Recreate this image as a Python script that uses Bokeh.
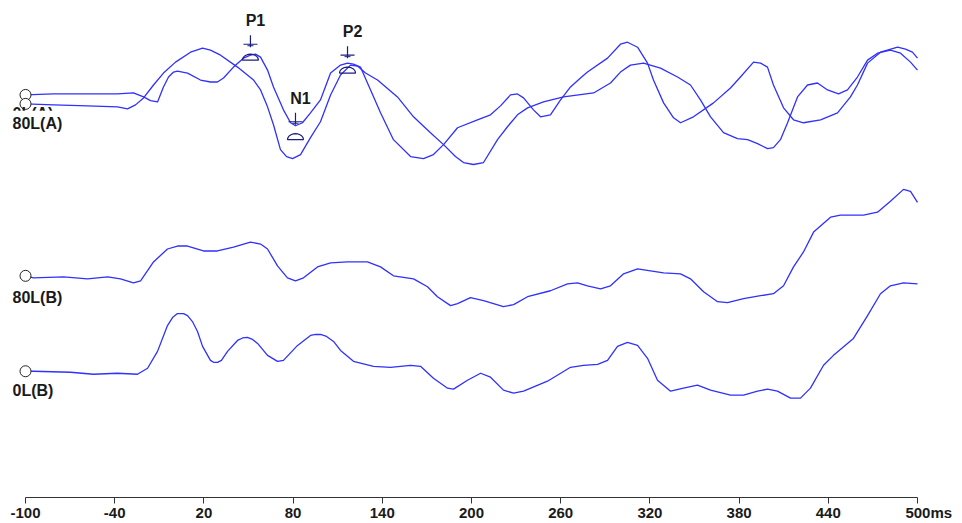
import numpy as np
from bokeh.plotting import figure
from bokeh.models import Range1d, FixedTicker, Label
from bokeh.embed import file_html
from bokeh.resources import INLINE
from bokeh.core.properties import value

# ---------------- data (latency in ms, amplitude in display units, up = positive) -------------
trace_names = ["0L(A)", "80L(A)", "80L(B)", "0L(B)"]

t_0LA = [-100, -81.2, -58.3, -38.1, -27.4, -20.6, -15.9, -11.2, -7.2, -3.8, -0.4, 2.2, 9.0, 17.7,
         24.4, 29.1, 33.2, 39.9, 46.6, 51.3, 54.7, 58.1, 62.8, 66.8, 73.5, 78.3, 81.6, 86.3, 91.7,
         98.4, 105.2, 111.9, 116.6, 120.6, 125.3, 132.1, 138.8, 147.5, 159.0, 167.7, 174.4, 181.2,
         190.6, 204.0, 212.8, 219.5, 226.2, 230.9, 235.0, 241.7, 246.4, 253.1, 259.9, 266.6, 273.3,
         278.0, 291.5, 300.2, 304.9, 311.7, 318.4, 322.4, 329.2, 335.9, 340.6, 349.3, 362.8, 374.2,
         380.9, 389.7, 394.4, 399.1, 403.1, 409.9, 416.6, 423.3, 434.8, 446.2, 454.9, 459.6, 466.4,
         475.1, 486.6, 491.9, 496.6, 500]
a_0LA = [0, 1, 1, 1, 2, -2, -5.7, -7, 8, 18, 23, 24, 22, 15,
         13, 13, 17, 28, 37, 40, 41, 38, 25, 8, -15, -28, -31, -28, -18,
         -5, 22, 30, 32, 31, 28, 5, -18, -45, -62, -64, -60, -50,
         -33, -25, -20, -11, 0, 1, -3, -15, -22, -20, -5, 8, 17,
         23, 37, 51, 53, 48, 32, 15, -8, -23, -28, -22, -8, 7,
         18, 33, 32, 28, 10, -13, -25, -28, -25, -18, -2, 10, 32,
         43, 48, 46, 43, 37]

t_80LA = [-100, -81.2, -58.3, -38.1, -31.4, -26.0, -20.6, -13.9, -7.2, 0.9, 11.0, 19.1, 24.4, 31.2,
          42.6, 53.4, 58.1, 62.8, 66.8, 71.5, 75.6, 79.6, 85.0, 91.7, 98.4, 105.2, 111.9, 118.6,
          123.3, 128.7, 136.8, 150.2, 161.0, 172.4, 181.2, 189.2, 194.6, 201.3, 208.1, 217.5, 224.2,
          230.9, 237.7, 248.4, 261.9, 282.1, 293.5, 300.2, 306.9, 315.7, 327.1, 338.6, 347.3, 354.0,
          360.8, 369.5, 378.9, 385.7, 392.4, 399.1, 403.1, 407.8, 412.6, 419.3, 426.0, 432.7, 439.5,
          446.9, 452.9, 459.6, 466.4, 473.1, 481.8, 488.6, 495.3, 500]
a_80LA = [0, -1, -2, -3, -5, -1, 6, 19, 31, 42, 52, 56, 54, 49,
          37, 24, 14, -3, -21, -46, -53, -55, -51, -34, -18, 9, 29, 39,
          38, 31, 24, 7, -13, -29, -41, -53, -59, -61, -59, -36, -23,
          -11, -4, 2, 7, 11, 21, 32, 39, 41, 36, 27, 19, 4,
          -13, -29, -35, -36, -40, -45, -44, -36, -19, 7, 19, 21, 14,
          10, 14, 27, 44, 51, 54, 51, 42, 34]

t_80LB = [-100, -94.6, -74.4, -58.3, -44.8, -36.1, -27.4, -22.6, -13.9, -4.5, 2.2, 9.0, 19.7, 29.1,
          39.9, 51.3, 58.1, 62.8, 69.5, 76.2, 81.6, 87.0, 96.4, 105.2, 116.6, 130.0, 138.8, 147.5,
          161.0, 170.4, 177.1, 185.9, 190.6, 199.3, 208.1, 221.5, 228.3, 237.7, 253.1, 264.6, 271.3,
          278.0, 286.8, 293.5, 302.3, 311.7, 320.4, 329.2, 340.6, 347.3, 356.1, 365.5, 372.2, 383.0,
          394.4, 403.1, 409.9, 416.6, 423.3, 430.1, 441.5, 448.2, 463.7, 473.1, 481.8, 490.6, 495.3,
          500]
a_80LB = [0, -2, -1, -3, -1, -3, -7, -5, 14, 27, 30, 30, 25, 25,
          29, 34, 32, 27, 10, -2, -5, -2, 9, 13, 14, 14, 9, 0,
          -3, -11, -21, -30, -28, -22, -25, -31, -29, -21, -15, -8, -7,
          -10, -13, -10, 2, 7, 5, 3, 2, -3, -16, -26, -27, -23,
          -20, -18, -10, 9, 24, 44, 59, 61, 61, 64, 75, 87, 85,
          74]

t_0LB = [-100, -94.6, -69.7, -54.3, -38.1, -24.7, -17.9, -11.2, -4.5, -1.1, 2.2, 6.3, 9.0, 12.3,
         15.7, 19.1, 24.4, 26.5, 29.1, 31.8, 35.9, 42.6, 46.0, 49.3, 52.7, 56.1, 62.8, 69.5, 73.5,
         83.0, 91.7, 95.1, 98.4, 102.5, 107.2, 111.9, 120.6, 134.1, 145.5, 159.0, 165.7, 174.4,
         183.9, 187.9, 197.3, 206.1, 212.8, 221.5, 228.3, 235.0, 251.1, 266.6, 275.3, 284.8, 291.5,
         298.2, 304.9, 311.7, 318.4, 325.1, 333.9, 342.6, 352.0, 360.8, 374.2, 383.0, 392.4, 399.1,
         405.8, 414.6, 421.3, 428.0, 436.8, 443.5, 456.9, 466.4, 475.1, 481.8, 490.6, 500]
a_0LB = [0, 0, -1, -3, -2, -3, 3, 20, 46, 54, 58, 58, 56, 50,
         40, 25, 11, 9, 9, 11, 20, 31, 33.5, 34, 32, 28, 16, 10, 11,
         26, 36, 37, 37, 35, 30, 21, 10, 5, 4, 6, 5, -7,
         -17, -18, -9, -2, -6, -19, -22, -20, -10, 4, 6, 7, 11,
         25, 29, 26, 13, -9, -20, -17, -14, -19, -24, -24, -20, -18,
         -20, -27, -27, -17, 6, 16, 33, 56, 78, 86, 89, 88]

# peak markers on the A traces
marker_names = ["P1", "N1", "P2"]
marker_lat = [51.3, 81.6, 116.6]
arrow_tip_amp = [48, -30, 37]
arch_apex_amp = [41, -39, 28]

tick_values = [-100, -40, 20, 80, 140, 200, 260, 320, 380, 440, 500]
unit_text = "ms"

# ---------------- layout / style -------------
PLOT_W, PLOT_H = 962, 523
X_START, X_END = -116.82, 530.27
MS_PER_PX = (X_END - X_START) / PLOT_W
offsets = [-95, -104, -277, -373]          # vertical placement of each trace baseline
label_gap = [10, 7, 13, 11]                # px from baseline to label box top
TRACE_COLOR = "#3030ff"
MARK_COLOR = "#1c1c80"
TEXT_COLOR = "#1a1a1a"
FONT = "Liberation Sans"

p = figure(width=PLOT_W, height=PLOT_H, output_backend="svg", toolbar_location=None,
           x_range=Range1d(X_START, X_END), y_range=Range1d(-500, 0),
           y_axis_location=None, min_border_left=0, min_border_right=0,
           min_border_top=0, min_border_bottom=23)
p.xgrid.visible = False
p.ygrid.visible = False
p.outline_line_color = None
p.background_fill_color = "white"
p.border_fill_color = "white"

ax = p.xaxis[0]
ax.ticker = FixedTicker(ticks=tick_values)
ax.bounds = (tick_values[0], tick_values[-1])
overrides = {v: str(v) for v in tick_values}
# unit appended to the last label; leading en-spaces keep the number centred on its tick
overrides[tick_values[-1]] = "\u2002\u2002\u2002" + str(tick_values[-1]) + unit_text
ax.major_label_overrides = overrides
ax.axis_line_color = "#333333"
ax.major_tick_line_color = "#333333"
ax.major_tick_out = 6
ax.major_tick_in = 0
ax.minor_tick_line_color = None
ax.major_label_standoff = 0
ax.major_label_text_font = FONT
ax.major_label_text_font_style = "bold"
ax.major_label_text_font_size = "15px"
ax.major_label_text_color = TEXT_COLOR

series = [(t_0LA, a_0LA), (t_80LA, a_80LA), (t_80LB, a_80LB), (t_0LB, a_0LB)]
for (t, a), off in zip(series, offsets):
    p.line(t, np.array(a, dtype=float) + off, line_color=TRACE_COLOR, line_width=1.3,
           line_join="round")

# start circles
p.scatter(x=[tick_values[0]] * 4, y=offsets, size=11, marker="circle",
          fill_color="white", line_color="#222222", line_width=1)

# trace labels (second one carries a white box, hiding the first as in the original)
for i, (name, off, gap) in enumerate(zip(trace_names, offsets, label_gap)):
    kw = dict(x_offset=-13)
    if i == 1:
        kw = dict(background_fill_color="white", padding=4, x_offset=-17)
    p.add_layout(Label(x=tick_values[0], y=off - gap, text=name,
                       text_baseline="top", text_align="left", text_font=FONT,
                       text_font_style="bold", text_font_size="16px",
                       text_color=TEXT_COLOR, **kw))

# peak markers
lat = np.array(marker_lat)
tip = np.array(arrow_tip_amp, dtype=float) + offsets[0]
apex = np.array(arch_apex_amp, dtype=float) + offsets[0]
ARROW_LEN, BAR_HALF, BAR_UP = 12, 7, 3
p.segment(x0=lat, y0=tip, x1=lat, y1=tip + ARROW_LEN, line_color=MARK_COLOR, line_width=1.2)
p.segment(x0=lat - BAR_HALF * MS_PER_PX, y0=tip + BAR_UP, x1=lat + BAR_HALF * MS_PER_PX,
          y1=tip + BAR_UP, line_color=MARK_COLOR, line_width=1.2)
p.segment(x0=lat - 3 * MS_PER_PX, y0=tip + 1.5, x1=lat + 3 * MS_PER_PX,
          y1=tip + 1.5, line_color=MARK_COLOR, line_width=1)

AW, AH = 8, 6
th = np.linspace(0, np.pi, 13)
xs = [list(L + AW * np.cos(th) * MS_PER_PX) for L in lat]
ys = [list(A - AH + AH * np.sin(th)) for A in apex]
p.patches(xs, ys, fill_color=None, line_color=MARK_COLOR, line_width=1.2)

p.text(x=lat + 5 * MS_PER_PX, y=tip + ARROW_LEN + 6, text=marker_names, text_align="center",
       text_baseline="bottom", text_font=value(FONT), text_font_style="bold",
       text_font_size="16px", text_color=TEXT_COLOR)

open("out.html", "w").write(file_html(p, INLINE))
